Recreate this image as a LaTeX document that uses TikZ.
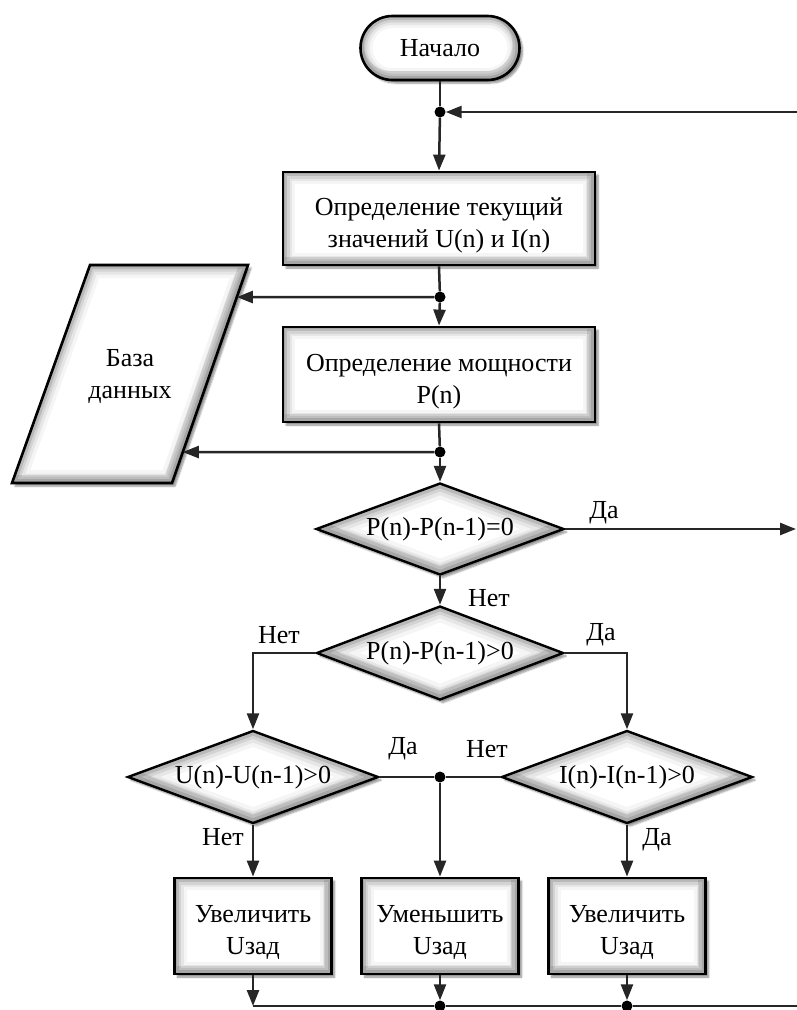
\documentclass[tikz,border=0pt]{standalone}
\usepackage{fontspec}
\setmainfont{Liberation Serif}
\newfontfamily\tnr{Liberation Serif}
\usetikzlibrary{shapes.geometric,shadows.blur,arrows.meta,calc}
\newcommand\twol[1]{\raisebox{-12.5pt}[0pt][0pt]{\begin{tabular}{@{}c@{}}#1\end{tabular}}}
\tikzset{
  every node/.style={font=\tnr\fontsize{26}{32}\selectfont},
  shad/.style={blur shadow={shadow xshift=3pt, shadow yshift=-3pt, shadow blur steps=6, shadow opacity=45}},
  glowrect/.style={path picture={
    \foreach \w/\o in {24/0.04,18/0.06,13/0.08,8/0.12}{%
      \draw[black, draw opacity=\o, line width=\w pt] (path picture bounding box.south west) rectangle (path picture bounding box.north east);}
    \draw[black, draw opacity=0.10, line width=10pt] ([shift={(-3pt,3pt)}]path picture bounding box.south west) rectangle ([shift={(-3pt,3pt)}]path picture bounding box.north east);
  }},
  glowterm/.style={path picture={
    \foreach \w/\o in {24/0.04,18/0.06,13/0.08,8/0.12}{%
      \draw[black, draw opacity=\o, line width=\w pt, rounded corners=31.9pt] (path picture bounding box.south west) rectangle (path picture bounding box.north east);}
    \draw[black, draw opacity=0.10, line width=10pt, rounded corners=31.9pt] ([shift={(-2pt,4pt)}]path picture bounding box.south west) rectangle ([shift={(-2pt,4pt)}]path picture bounding box.north east);
  }},
  glowdia/.style={path picture={
    \foreach \w/\o in {30/0.04,22/0.06,15/0.08,9/0.12}{%
      \draw[black, draw opacity=\o, line width=\w pt, line join=miter] (path picture bounding box.north) -- (path picture bounding box.east) -- (path picture bounding box.south) -- (path picture bounding box.west) -- cycle;}
    \draw[black, draw opacity=0.10, line width=10pt] ([yshift=4pt]path picture bounding box.north) -- ([yshift=4pt]path picture bounding box.east) -- ([yshift=4pt]path picture bounding box.south) -- ([yshift=4pt]path picture bounding box.west) -- cycle;
  }},
  glowpar/.style={path picture={
    \foreach \w/\o in {26/0.04,19/0.06,13/0.08,8/0.12}{%
      \draw[black, draw opacity=\o, line width=\w pt, line join=miter] (dbTL) -- (dbTR) -- (dbBR) -- (dbBL) -- cycle;}
    \draw[black, draw opacity=0.10, line width=10pt] ([shift={(-3pt,3pt)}]dbTL) -- ([shift={(-3pt,3pt)}]dbTR) -- ([shift={(-3pt,3pt)}]dbBR) -- ([shift={(-3pt,3pt)}]dbBL) -- cycle;
  }},
  proc/.style={draw, line width=2.8pt, fill=white, rectangle, inner sep=0pt, shad, glowrect},
  term/.style={draw, line width=2.6pt, fill=white, rectangle, rounded corners=31.9pt, inner sep=0pt, shad, glowterm},
  dec/.style={draw, line width=2.4pt, diamond, aspect=2.7, fill=white, inner sep=0pt, shad, glowdia},
  dot/.style={circle, fill=black, inner sep=0pt, minimum size=11pt},
  conn/.style={line width=2.5pt, draw=black!85},
  arr/.style={conn, -{Triangle[length=16pt,width=12pt]}},
  lab/.style={inner sep=0pt}
}
\begin{document}
\begin{tikzpicture}[x=1pt,y=-1pt]
\useasboundingbox (0,0) rectangle (797,1010);
% parallelogram (database)
\coordinate (dbTL) at (90,265);
\coordinate (dbTR) at (248,265);
\coordinate (dbBR) at (172,483);
\coordinate (dbBL) at (12,483);
\path[draw, line width=2.6pt, fill=white, shad, glowpar, line join=miter] (dbTL) -- (dbTR) -- (dbBR) -- (dbBL) -- cycle;
\node[align=center] (db) at (130,376) {База\\данных};
\coordinate (dbA) at ($(dbTR)!0.147!(dbBR)$);
\coordinate (dbB) at ($(dbTR)!0.858!(dbBR)$);

\node[term, minimum width=159pt, minimum height=64pt] (start) at (440,48) {Начало};
\node[dot] (j0) at (440,112) {};
\coordinate (r0) at (797,112);
\node[proc, minimum width=312pt, minimum height=93pt] (b1) at (439,218.5) {\twol{Определение текущий\\значений U(n) и I(n)}};
\node[dot] (j1) at (440,297) {};
\node[proc, minimum width=312pt, minimum height=95pt] (b2) at (439,374.5) {\twol{Определение мощности\\P(n)}};
\node[dot] (j2) at (440,452) {};

\node[dec, minimum width=248pt, minimum height=92pt] (d1) at (440,529) {P(n)-P(n-1)=0};
\coordinate (r1) at (796,529);
\node[dec, minimum width=247pt, minimum height=94pt] (d2) at (440,653) {P(n)-P(n-1)>0};
\node[dec, minimum width=251pt, minimum height=93pt] (d3) at (253,777) {U(n)-U(n-1)>0};
\node[dec, minimum width=251pt, minimum height=93pt] (d4) at (627,777) {I(n)-I(n-1)>0};
\node[dot] (j3) at (440,777) {};

\node[proc, minimum width=157pt, minimum height=96pt] (bA) at (253,926) {\twol{Увеличить\\Uзад}};
\node[proc, minimum width=157pt, minimum height=96pt] (bB) at (440,926) {\twol{Уменьшить\\Uзад}};
\node[proc, minimum width=157pt, minimum height=96pt] (bC) at (627,926) {\twol{Увеличить\\Uзад}};

\coordinate (fA) at (253,1006);
\node[dot] (fB) at (440,1006) {};
\node[dot] (fC) at (627,1006) {};
\coordinate (r2) at (797,1006);

% connectors
\draw[conn] (start.south) -- (j0);
\draw[arr] (r0) -- (j0);
\draw[arr] (j0) -- (b1.north);
\draw[conn] (b1.south) -- (j1);
\draw[arr] (j1) -- (b2.north);
\draw[arr] (j1) -- (dbA);
\draw[conn] (b2.south) -- (j2);
\draw[arr] (j2) -- (dbB);
\draw[arr] (j2) -- (d1.north);
\draw[arr] (d1.east) -- (r1);
\draw[arr] (d1.south) -- (d2.north);
\draw[arr] (d2.west) -| (d3.north);
\draw[arr] (d2.east) -| (d4.north);
\draw[conn] (d3.east) -- (j3);
\draw[conn] (d4.west) -- (j3);
\draw[arr] (j3) -- (bB.north);
\draw[arr] (d3.south) -- (bA.north);
\draw[arr] (d4.south) -- (bC.north);
\draw[arr] (bA.south) -- (fA);
\draw[arr] (bB.south) -- (fB);
\draw[arr] (bC.south) -- (fC);
\draw[conn] (fA) -- (fB) -- (fC) -- (r2);

% labels
\node[lab] (l1) at (604,513) {Да};
\node[lab] (l2) at (489,598) {Нет};
\node[lab] (l3) at (279,635) {Нет};
\node[lab] (l4) at (601,635) {Да};
\node[lab] (l5) at (403,749) {Да};
\node[lab] (l6) at (487,749) {Нет};
\node[lab] (l7) at (223,837) {Нет};
\node[lab] (l8) at (657,840) {Да};
\end{tikzpicture}
\end{document}
